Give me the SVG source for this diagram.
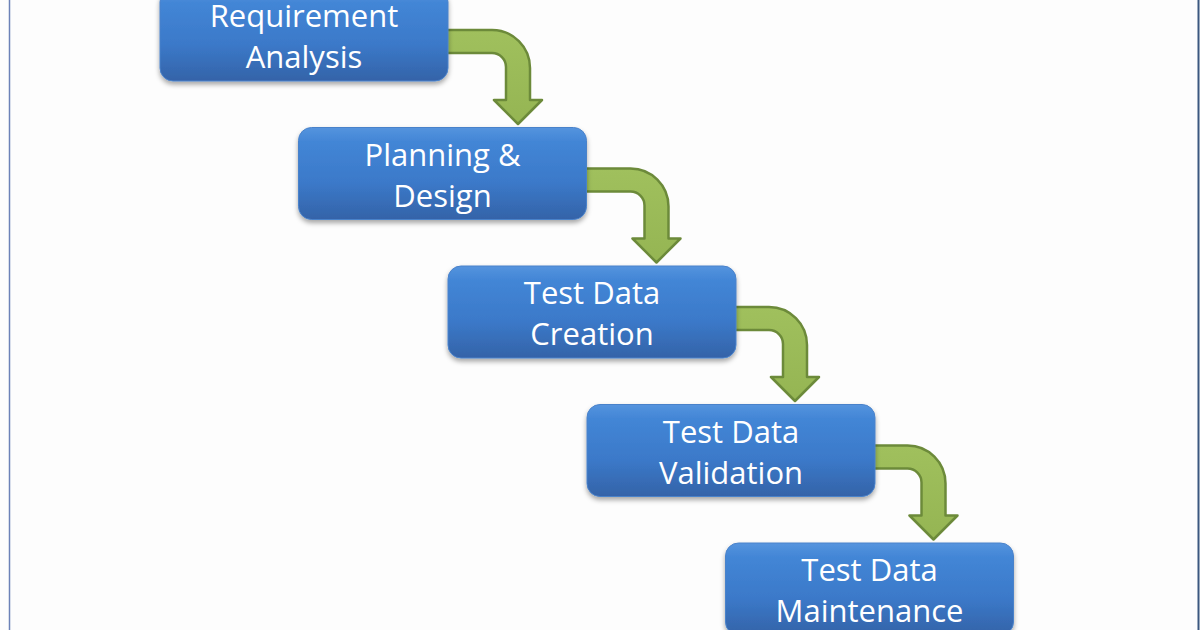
<svg xmlns="http://www.w3.org/2000/svg" width="1200" height="630" viewBox="0 0 1200 630">
  <defs>
    <linearGradient id="boxGrad" x1="0" y1="0" x2="0" y2="1">
      <stop offset="0" stop-color="#5594de"/>
      <stop offset="0.15" stop-color="#4386d6"/>
      <stop offset="0.6" stop-color="#3b79c9"/>
      <stop offset="1" stop-color="#3463a8"/>
    </linearGradient>
    <linearGradient id="arrowGrad" x1="0" y1="0" x2="0" y2="1">
      <stop offset="0" stop-color="#a0c05d"/>
      <stop offset="1" stop-color="#95b553"/>
    </linearGradient>
    <filter id="shadow" x="-10%" y="-20%" width="120%" height="150%">
      <feDropShadow dx="0" dy="3" stdDeviation="2.5" flood-color="#000" flood-opacity="0.35"/>
    </filter>
  </defs>
  <style>
    .box { fill: url(#boxGrad); stroke: #4a82ca; stroke-width: 1; filter: url(#shadow); }
    .lbl { fill: #ffffff; font-family: "Open Sans", "Liberation Sans", sans-serif; font-size: 31px; text-anchor: middle; }
    .arrow { fill: url(#arrowGrad); stroke: #6c8a3a; stroke-width: 2.5; stroke-linejoin: round; }
  </style>
  <rect x="0" y="0" width="1200" height="630" fill="#fdfdfd"/>
  <line x1="9.5" y1="0" x2="9.5" y2="630" stroke="#6c82b8" stroke-width="1.5"/>
  <line x1="1198.5" y1="0" x2="1198.5" y2="630" stroke="#3b5880" stroke-width="2"/>

  <g id="connectors">
    <path class="arrow" transform="translate(448,-11)" d="M-2,41 H44 A38,38 0 0 1 82,79 V111 H94 L70,135 L46,111 H58 V78 A14,14 0 0 0 44,64 H-2 Z"/>
    <path class="arrow" transform="translate(586.5,127.5)" d="M-2,41 H44 A38,38 0 0 1 82,79 V111 H94 L70,135 L46,111 H58 V78 A14,14 0 0 0 44,64 H-2 Z"/>
    <path class="arrow" transform="translate(725,266)" d="M-2,41 H44 A38,38 0 0 1 82,79 V111 H94 L70,135 L46,111 H58 V78 A14,14 0 0 0 44,64 H-2 Z"/>
    <path class="arrow" transform="translate(863.5,404.5)" d="M-2,41 H44 A38,38 0 0 1 82,79 V111 H94 L70,135 L46,111 H58 V78 A14,14 0 0 0 44,64 H-2 Z"/>
  </g>

  <g id="node1">
    <rect class="box" x="160" y="-11" width="288" height="92" rx="13"/>
    <text class="lbl" x="304" y="27">Requirement</text>
    <text class="lbl" x="304" y="68">Analysis</text>
  </g>
  <g id="node2">
    <rect class="box" x="298.5" y="127.5" width="288" height="92" rx="13"/>
    <text class="lbl" x="442.5" y="165.5">Planning &amp;</text>
    <text class="lbl" x="442.5" y="206.5">Design</text>
  </g>
  <g id="node3">
    <rect class="box" x="448" y="266" width="288" height="92" rx="13"/>
    <text class="lbl" x="592" y="304">Test Data</text>
    <text class="lbl" x="592" y="345">Creation</text>
  </g>
  <g id="node4">
    <rect class="box" x="587" y="404.5" width="288" height="92" rx="13"/>
    <text class="lbl" x="731" y="442.5">Test Data</text>
    <text class="lbl" x="731" y="483.5">Validation</text>
  </g>
  <g id="node5">
    <rect class="box" x="725.5" y="543" width="288" height="92" rx="13"/>
    <text class="lbl" x="869.5" y="581">Test Data</text>
    <text class="lbl" x="869.5" y="622">Maintenance</text>
  </g>
</svg>
